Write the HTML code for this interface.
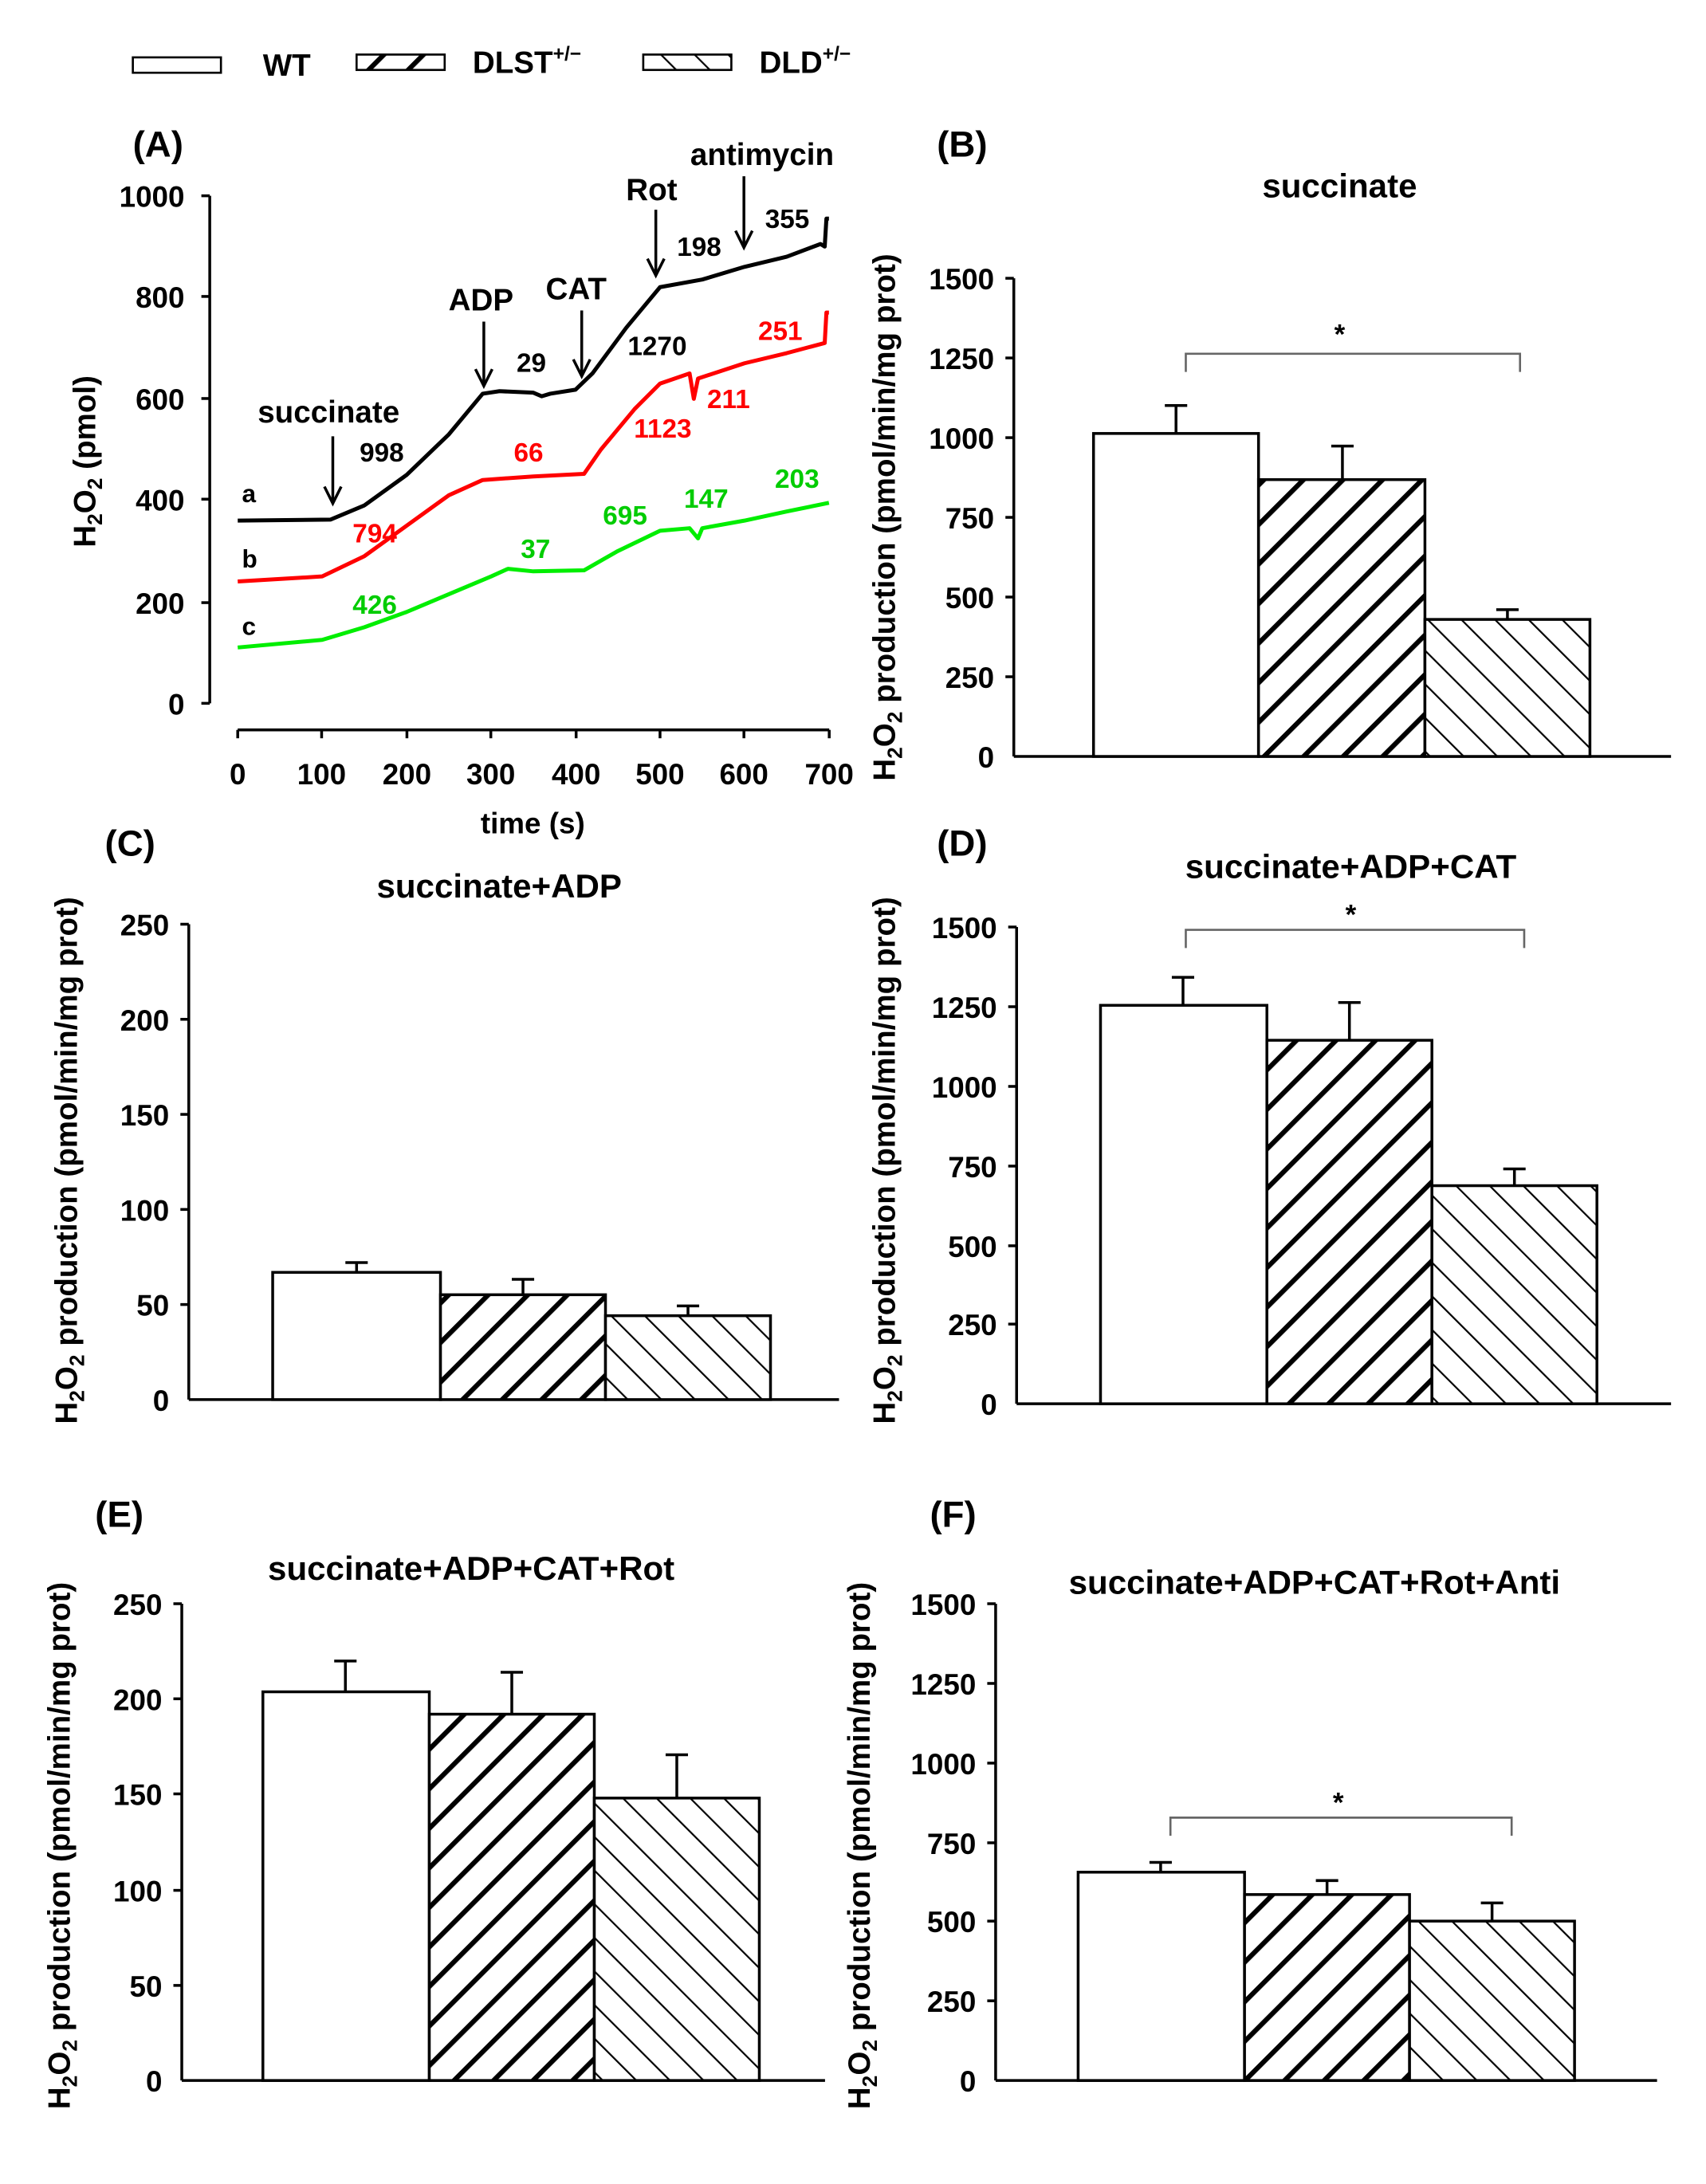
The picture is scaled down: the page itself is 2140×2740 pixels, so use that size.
<!DOCTYPE html>
<html><head><meta charset="utf-8"><style>html,body{margin:0;padding:0;background:#fff}svg{display:block}text{font-family:"Liberation Sans",Arial,sans-serif;font-weight:bold}</style></head>
<body>
<svg width="2140" height="2740" viewBox="0 0 1220 1562" xmlns="http://www.w3.org/2000/svg">
<defs>
<pattern id="fw" patternUnits="userSpaceOnUse" width="20" height="20" patternTransform="rotate(45)">
<rect width="20" height="20" fill="#fff"/><line x1="0" y1="0" x2="0" y2="20" stroke="#000" stroke-width="7"/></pattern>
<pattern id="bw" patternUnits="userSpaceOnUse" width="17" height="17" patternTransform="rotate(-45)">
<rect width="17" height="17" fill="#fff"/><line x1="0" y1="0" x2="0" y2="17" stroke="#000" stroke-width="2.5"/></pattern>
</defs>
<!-- legend -->
<rect x="95" y="41" width="63" height="11" fill="#fff" stroke="#000" stroke-width="1.5"/>
<text x="188" y="54" font-size="22">WT</text>
<rect x="255" y="39" width="63" height="11" fill="url(#fw)" stroke="#000" stroke-width="1.5"/>
<text x="338" y="52" font-size="22">DLST<tspan font-size="14" dy="-9">+/−</tspan></text>
<rect x="460" y="39" width="63" height="11" fill="url(#bw)" stroke="#000" stroke-width="1.5"/>
<text x="543" y="52" font-size="22">DLD<tspan font-size="14" dy="-9">+/−</tspan></text>

<!-- Panel A -->
<text x="95" y="112" font-size="26">(A)</text>
<g stroke="#000" stroke-width="2">
<line x1="150" y1="140" x2="150" y2="503"/>
<line x1="144" y1="140" x2="150" y2="140"/><line x1="144" y1="212" x2="150" y2="212"/><line x1="144" y1="285" x2="150" y2="285"/><line x1="144" y1="357" x2="150" y2="357"/><line x1="144" y1="431" x2="150" y2="431"/><line x1="144" y1="503" x2="150" y2="503"/>
<line x1="170" y1="522" x2="593" y2="522"/>
<line x1="170" y1="522" x2="170" y2="528"/><line x1="230" y1="522" x2="230" y2="528"/><line x1="291" y1="522" x2="291" y2="528"/><line x1="351" y1="522" x2="351" y2="528"/><line x1="412" y1="522" x2="412" y2="528"/><line x1="472" y1="522" x2="472" y2="528"/><line x1="532" y1="522" x2="532" y2="528"/><line x1="593" y1="522" x2="593" y2="528"/>
</g>
<g font-size="21" text-anchor="end">
<text x="132" y="148">1000</text><text x="132" y="220">800</text><text x="132" y="293">600</text><text x="132" y="365">400</text><text x="132" y="439">200</text><text x="132" y="511">0</text>
</g>
<g font-size="21" text-anchor="middle">
<text x="170" y="561">0</text><text x="230" y="561">100</text><text x="291" y="561">200</text><text x="351" y="561">300</text><text x="412" y="561">400</text><text x="472" y="561">500</text><text x="532" y="561">600</text><text x="593" y="561">700</text>
<text x="381" y="596">time (s)</text>
</g>
<text transform="translate(68,330) rotate(-90)" font-size="22" text-anchor="middle">H<tspan font-size="15" dy="5">2</tspan><tspan dy="-5">O</tspan><tspan font-size="15" dy="5">2</tspan><tspan dy="-5"> (pmol)</tspan></text>
<g transform="translate(170,503) scale(0.604,-0.363)" fill="none" stroke-width="5" stroke-linejoin="round">
<polyline vector-effect="non-scaling-stroke" stroke="#000" points="0,360 110,362 150,390 200,450 250,530 290,610 310,615 350,612 360,605 370,610 400,618 420,650 460,740 500,820 550,835 600,860 650,880 690,905 695,900 697,955 700,955"/>
<polyline vector-effect="non-scaling-stroke" stroke="#f00" points="0,240 100,250 150,290 200,350 250,410 290,440 350,447 410,452 430,500 470,580 500,630 535,650 540,600 545,640 600,670 650,690 695,710 697,770 700,770"/>
<polyline vector-effect="non-scaling-stroke" stroke="#0e0" points="0,110 100,125 150,150 200,180 250,215 300,250 320,265 350,260 410,262 450,300 500,340 535,345 545,325 550,345 600,360 650,378 700,395"/>
</g>
<g font-size="18">
<text x="173" y="359">a</text><text x="173" y="406">b</text><text x="173" y="454">c</text>
</g>
<g font-size="19" text-anchor="middle">
<text x="273" y="330" fill="#000">998</text><text x="380" y="266">29</text><text x="470" y="254">1270</text><text x="500" y="183">198</text><text x="563" y="163">355</text>
<text x="268" y="388" fill="#f00">794</text><text x="378" y="330" fill="#f00">66</text><text x="474" y="313" fill="#f00">1123</text><text x="521" y="292" fill="#f00">211</text><text x="558" y="243" fill="#f00">251</text>
<text x="268" y="439" fill="#0c0">426</text><text x="383" y="399" fill="#0c0">37</text><text x="447" y="375" fill="#0c0">695</text><text x="505" y="363" fill="#0c0">147</text><text x="570" y="349" fill="#0c0">203</text>
</g>
<g font-size="22" text-anchor="middle">
<text x="235" y="302">succinate</text><text x="344" y="222">ADP</text><text x="412" y="214">CAT</text><text x="466" y="143">Rot</text><text x="545" y="118">antimycin</text>
</g>
<g stroke="#000" stroke-width="2" fill="none">
<line x1="238" y1="312" x2="238" y2="358"/><polyline points="232,348 238,360 244,348"/>
<line x1="346" y1="230" x2="346" y2="275"/><polyline points="340,264 346,276 352,264"/>
<line x1="416" y1="222" x2="416" y2="268"/><polyline points="410,257 416,269 422,257"/>
<line x1="469" y1="150" x2="469" y2="196"/><polyline points="463,185 469,197 475,185"/>
<line x1="532" y1="126" x2="532" y2="176"/><polyline points="526,165 532,177 538,165"/>
</g>

<!-- Panel B -->
<text x="670" y="112" font-size="26">(B)</text>
<text x="958" y="141" font-size="24" text-anchor="middle">succinate</text>
<g stroke="#000" stroke-width="2">
<line x1="725" y1="199" x2="725" y2="541"/><line x1="725" y1="541" x2="1195" y2="541"/>
<line x1="719" y1="199" x2="725" y2="199"/><line x1="719" y1="256" x2="725" y2="256"/><line x1="719" y1="313" x2="725" y2="313"/><line x1="719" y1="370" x2="725" y2="370"/><line x1="719" y1="427" x2="725" y2="427"/><line x1="719" y1="484" x2="725" y2="484"/>
<rect x="782" y="310" width="118" height="231" fill="#fff"/><rect x="900" y="343" width="119" height="198" fill="url(#fw)"/><rect x="1019" y="443" width="118" height="98" fill="url(#bw)"/>
<line x1="841" y1="310" x2="841" y2="290"/><line x1="833" y1="290" x2="849" y2="290"/>
<line x1="960" y1="343" x2="960" y2="319"/><line x1="952" y1="319" x2="968" y2="319"/>
<line x1="1078" y1="443" x2="1078" y2="436"/><line x1="1070" y1="436" x2="1086" y2="436"/>
</g>
<polyline points="848,266 848,253 1087,253 1087,266" fill="none" stroke="#666" stroke-width="1.5"/>
<text x="958" y="246" font-size="20" text-anchor="middle">*</text>
<g font-size="21" text-anchor="end">
<text x="711" y="207">1500</text><text x="711" y="264">1250</text><text x="711" y="321">1000</text><text x="711" y="378">750</text><text x="711" y="435">500</text><text x="711" y="492">250</text><text x="711" y="549">0</text>
</g>
<text transform="translate(640,370) rotate(-90)" font-size="22" text-anchor="middle">H<tspan font-size="15" dy="5">2</tspan><tspan dy="-5">O</tspan><tspan font-size="15" dy="5">2</tspan><tspan dy="-5"> production (pmol/min/mg prot)</tspan></text>

<!-- Panel C -->
<text x="75" y="612" font-size="26">(C)</text>
<text x="357" y="642" font-size="24" text-anchor="middle">succinate+ADP</text>
<g stroke="#000" stroke-width="2">
<line x1="135" y1="661" x2="135" y2="1001"/><line x1="135" y1="1001" x2="600" y2="1001"/>
<line x1="129" y1="661" x2="135" y2="661"/><line x1="129" y1="729" x2="135" y2="729"/><line x1="129" y1="797" x2="135" y2="797"/><line x1="129" y1="865" x2="135" y2="865"/><line x1="129" y1="933" x2="135" y2="933"/>
<rect x="195" y="910" width="120" height="91" fill="#fff"/><rect x="315" y="926" width="118" height="75" fill="url(#fw)"/><rect x="433" y="941" width="118" height="60" fill="url(#bw)"/>
<line x1="255" y1="910" x2="255" y2="903"/><line x1="247" y1="903" x2="263" y2="903"/>
<line x1="374" y1="926" x2="374" y2="915"/><line x1="366" y1="915" x2="382" y2="915"/>
<line x1="492" y1="941" x2="492" y2="934"/><line x1="484" y1="934" x2="500" y2="934"/>
</g>
<g font-size="21" text-anchor="end">
<text x="121" y="669">250</text><text x="121" y="737">200</text><text x="121" y="805">150</text><text x="121" y="873">100</text><text x="121" y="941">50</text><text x="121" y="1009">0</text>
</g>
<text transform="translate(55,830) rotate(-90)" font-size="22" text-anchor="middle">H<tspan font-size="15" dy="5">2</tspan><tspan dy="-5">O</tspan><tspan font-size="15" dy="5">2</tspan><tspan dy="-5"> production (pmol/min/mg prot)</tspan></text>

<!-- Panel D -->
<text x="670" y="612" font-size="26">(D)</text>
<text x="966" y="628" font-size="24" text-anchor="middle">succinate+ADP+CAT</text>
<g stroke="#000" stroke-width="2">
<line x1="727" y1="663" x2="727" y2="1004"/><line x1="727" y1="1004" x2="1195" y2="1004"/>
<line x1="721" y1="663" x2="727" y2="663"/><line x1="721" y1="720" x2="727" y2="720"/><line x1="721" y1="777" x2="727" y2="777"/><line x1="721" y1="834" x2="727" y2="834"/><line x1="721" y1="891" x2="727" y2="891"/><line x1="721" y1="947" x2="727" y2="947"/>
<rect x="787" y="719" width="119" height="285" fill="#fff"/><rect x="906" y="744" width="118" height="260" fill="url(#fw)"/><rect x="1024" y="848" width="118" height="156" fill="url(#bw)"/>
<line x1="846" y1="719" x2="846" y2="699"/><line x1="838" y1="699" x2="854" y2="699"/>
<line x1="965" y1="744" x2="965" y2="717"/><line x1="957" y1="717" x2="973" y2="717"/>
<line x1="1083" y1="848" x2="1083" y2="836"/><line x1="1075" y1="836" x2="1091" y2="836"/>
</g>
<polyline points="848,678 848,665 1090,665 1090,678" fill="none" stroke="#666" stroke-width="1.5"/>
<text x="966" y="661" font-size="20" text-anchor="middle">*</text>
<g font-size="21" text-anchor="end">
<text x="713" y="671">1500</text><text x="713" y="728">1250</text><text x="713" y="785">1000</text><text x="713" y="842">750</text><text x="713" y="899">500</text><text x="713" y="955">250</text><text x="713" y="1012">0</text>
</g>
<text transform="translate(640,830) rotate(-90)" font-size="22" text-anchor="middle">H<tspan font-size="15" dy="5">2</tspan><tspan dy="-5">O</tspan><tspan font-size="15" dy="5">2</tspan><tspan dy="-5"> production (pmol/min/mg prot)</tspan></text>

<!-- Panel E -->
<text x="68" y="1092" font-size="26">(E)</text>
<text x="337" y="1130" font-size="24" text-anchor="middle">succinate+ADP+CAT+Rot</text>
<g stroke="#000" stroke-width="2">
<line x1="130" y1="1147" x2="130" y2="1488"/><line x1="130" y1="1488" x2="590" y2="1488"/>
<line x1="124" y1="1147" x2="130" y2="1147"/><line x1="124" y1="1215" x2="130" y2="1215"/><line x1="124" y1="1283" x2="130" y2="1283"/><line x1="124" y1="1352" x2="130" y2="1352"/><line x1="124" y1="1420" x2="130" y2="1420"/>
<rect x="188" y="1210" width="119" height="278" fill="#fff"/><rect x="307" y="1226" width="118" height="262" fill="url(#fw)"/><rect x="425" y="1286" width="118" height="202" fill="url(#bw)"/>
<line x1="247" y1="1210" x2="247" y2="1188"/><line x1="239" y1="1188" x2="255" y2="1188"/>
<line x1="366" y1="1226" x2="366" y2="1196"/><line x1="358" y1="1196" x2="374" y2="1196"/>
<line x1="484" y1="1286" x2="484" y2="1255"/><line x1="476" y1="1255" x2="492" y2="1255"/>
</g>
<g font-size="21" text-anchor="end">
<text x="116" y="1155">250</text><text x="116" y="1223">200</text><text x="116" y="1291">150</text><text x="116" y="1360">100</text><text x="116" y="1428">50</text><text x="116" y="1496">0</text>
</g>
<text transform="translate(50,1320) rotate(-90)" font-size="22" text-anchor="middle">H<tspan font-size="15" dy="5">2</tspan><tspan dy="-5">O</tspan><tspan font-size="15" dy="5">2</tspan><tspan dy="-5"> production (pmol/min/mg prot)</tspan></text>

<!-- Panel F -->
<text x="665" y="1092" font-size="26">(F)</text>
<text x="940" y="1140" font-size="24" text-anchor="middle">succinate+ADP+CAT+Rot+Anti</text>
<g stroke="#000" stroke-width="2">
<line x1="712" y1="1147" x2="712" y2="1488"/><line x1="712" y1="1488" x2="1185" y2="1488"/>
<line x1="706" y1="1147" x2="712" y2="1147"/><line x1="706" y1="1204" x2="712" y2="1204"/><line x1="706" y1="1261" x2="712" y2="1261"/><line x1="706" y1="1318" x2="712" y2="1318"/><line x1="706" y1="1374" x2="712" y2="1374"/><line x1="706" y1="1431" x2="712" y2="1431"/>
<rect x="771" y="1339" width="119" height="149" fill="#fff"/><rect x="890" y="1355" width="118" height="133" fill="url(#fw)"/><rect x="1008" y="1374" width="118" height="114" fill="url(#bw)"/>
<line x1="830" y1="1339" x2="830" y2="1332"/><line x1="822" y1="1332" x2="838" y2="1332"/>
<line x1="949" y1="1355" x2="949" y2="1345"/><line x1="941" y1="1345" x2="957" y2="1345"/>
<line x1="1067" y1="1374" x2="1067" y2="1361"/><line x1="1059" y1="1361" x2="1075" y2="1361"/>
</g>
<polyline points="837,1313 837,1300 1081,1300 1081,1313" fill="none" stroke="#666" stroke-width="1.5"/>
<text x="957" y="1296" font-size="20" text-anchor="middle">*</text>
<g font-size="21" text-anchor="end">
<text x="698" y="1155">1500</text><text x="698" y="1212">1250</text><text x="698" y="1269">1000</text><text x="698" y="1326">750</text><text x="698" y="1382">500</text><text x="698" y="1439">250</text><text x="698" y="1496">0</text>
</g>
<text transform="translate(622,1320) rotate(-90)" font-size="22" text-anchor="middle">H<tspan font-size="15" dy="5">2</tspan><tspan dy="-5">O</tspan><tspan font-size="15" dy="5">2</tspan><tspan dy="-5"> production (pmol/min/mg prot)</tspan></text>
</svg>
</body></html>
